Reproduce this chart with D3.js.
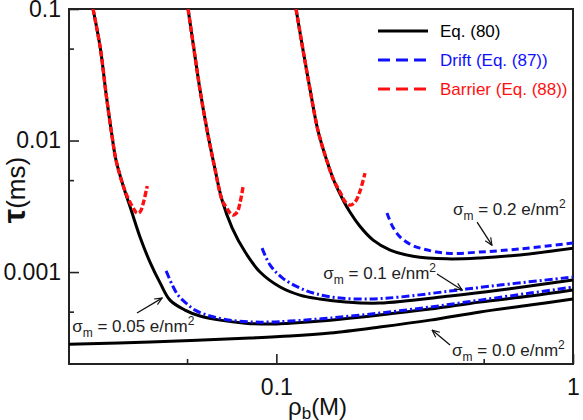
<!DOCTYPE html>
<html>
<head>
<meta charset="utf-8">
<script src="https://cdn.jsdelivr.net/npm/d3@7"></script>
<style>
  body { margin: 0; background: #fff; }
  svg text { font-family: "Liberation Sans", Arial, sans-serif; }
</style>
</head>
<body>
<div id="chart"></div>
<script>
// data: [rho_b (M), tau (ms)]
var eq80_s000 = [[0.02,0.000283],[0.0376,0.000294],[0.0815,0.000315],[0.111,0.000326],[0.152,0.000344],[0.223,0.000382],[0.330,0.000431],[0.486,0.000497],[0.717,0.000561],[1.0,0.000624]];
var eq80_s005 = [[0.0241,0.1],[0.0255,0.0505],[0.0267,0.0222],[0.0279,0.0110],[0.0288,0.00711],[0.0304,0.00459],[0.0324,0.00296],[0.0347,0.00185],[0.0375,0.00119],[0.0406,0.000824],[0.0438,0.000612],[0.0492,0.000514],[0.0553,0.000463],[0.0646,0.000431],[0.0785,0.000409],[0.0953,0.000402],[0.111,0.000409],[0.152,0.000431],[0.223,0.000471],[0.330,0.000523],[0.486,0.000592],[0.717,0.000657],[1.0,0.000730]];
var eq80_s010 = [[0.0504,0.1],[0.0528,0.0488],[0.0553,0.0242],[0.0584,0.0120],[0.0617,0.00652],[0.0656,0.00353],[0.0710,0.00216],[0.0785,0.00142],[0.0881,0.001],[0.103,0.000769],[0.120,0.000668],[0.140,0.000624],[0.171,0.000592],[0.223,0.000581],[0.385,0.000657],[0.568,0.000730],[1.0,0.000869]];
var eq80_s020 = [[0.1165,0.1],[0.123,0.0488],[0.130,0.0242],[0.138,0.0120],[0.147,0.00736],[0.156,0.00501],[0.1665,0.00366],[0.177,0.00286],[0.191,0.00224],[0.212,0.00175],[0.242,0.00147],[0.289,0.00132],[0.376,0.00126],[0.486,0.00128],[0.662,0.00135],[1.0,0.00152]];

var drift_s005 = [[0.0425,0.00102],[0.0446,0.000797],[0.0466,0.000668],[0.0496,0.000581],[0.0532,0.000514],[0.0598,0.000463],[0.0698,0.000431],[0.0834,0.000417],[0.0953,0.000417],[0.111,0.000424],[0.152,0.000447],[0.223,0.000488],[0.330,0.000542],[0.486,0.000612],[0.717,0.000692],[1.0,0.000769]];
var drift_s010 = [[0.0895,0.00152],[0.0953,0.00113],[0.105,0.000900],[0.120,0.000756],[0.137,0.000681],[0.164,0.000634],[0.207,0.000624],[0.261,0.000646],[0.385,0.000717],[0.568,0.000797],[1.0,0.000916]];
var drift_s020 = [[0.236,0.00281],[0.247,0.00220],[0.261,0.00185],[0.282,0.00163],[0.305,0.00152],[0.376,0.00139],[0.486,0.00142],[0.662,0.00150],[1.0,0.00166]];

var barrier_s005 = [[0.0241,0.1],[0.0255,0.0505],[0.0267,0.0222],[0.0279,0.0110],[0.0288,0.00711],[0.0304,0.00459],[0.0316,0.00366],[0.0329,0.00307],[0.0339,0.00281],[0.0347,0.00286],[0.0356,0.00335],[0.0367,0.00451]];
var barrier_s010 = [[0.0504,0.1],[0.0528,0.0488],[0.0553,0.0242],[0.0584,0.0120],[0.0617,0.00652],[0.0656,0.00353],[0.0677,0.00312],[0.0698,0.00281],[0.0715,0.00271],[0.0738,0.00286],[0.0755,0.00340],[0.0773,0.00451]];
var barrier_s020 = [[0.1165,0.1],[0.123,0.0488],[0.130,0.0242],[0.138,0.0120],[0.147,0.00736],[0.156,0.00501],[0.164,0.00406],[0.170,0.00347],[0.177,0.00323],[0.184,0.00340],[0.191,0.00406],[0.199,0.00566]];

var xMajor = [0.1, 1];
var xMinor = [0.05, 0.5];
var yMajor = [0.001, 0.01, 0.1];
var yMinor = [0.0005, 0.005, 0.05];

var legendLabels = ["Eq. (80)", "Drift (Eq. (87))", "Barrier (Eq. (88))"];

// annotations: label value, text anchor, arrow tail, arrow tip (data units)
var sigmaLabels = ["0.05", "0.1", "0.2", "0.0"];
var sigmaText = [[0.0205,0.000350],[0.144,0.000885],[0.394,0.00271],[0.391,0.000230]];
var sigmaTail = [[0.0339,0.000488],[0.348,0.000966],[0.475,0.00240],[0.385,0.000279]];
var sigmaTip = [[0.0412,0.000634],[0.423,0.000730],[0.533,0.00160],[0.335,0.000362]];

var svgWidth = 583;
var svgHeight = 420;
var margin = { top: 9, right: 10, bottom: 56, left: 69 };
var width = svgWidth - margin.left - margin.right;
var height = svgHeight - margin.top - margin.bottom;

var svg = d3.select("#chart").append("svg")
  .attr("width", svgWidth)
  .attr("height", svgHeight);

svg.append("defs").append("clipPath").attr("id", "plotclip")
  .append("rect").attr("width", width).attr("height", height);

svg.select("defs").append("marker")
  .attr("id", "arrow")
  .attr("viewBox", "-1 -5 11 10")
  .attr("refX", 9).attr("refY", 0)
  .attr("markerWidth", 9).attr("markerHeight", 9)
  .attr("markerUnits", "userSpaceOnUse")
  .attr("orient", "auto")
  .append("path")
  .attr("d", "M0,-4L9,0L0,4")
  .attr("fill", "none")
  .attr("stroke", "#111")
  .attr("stroke-width", 1.4);

var g = svg.append("g").attr("transform", `translate(${margin.left},${margin.top})`);

var x = d3.scaleLog().domain([0.02, 1]).range([0, width]);
var y = d3.scaleLog().domain([0.0002, 0.1]).range([height, 0]);

// axes (ticks point inward)
var fmt = d3.format("");
g.append("g").attr("class", "xaxis")
  .attr("transform", `translate(0,${height})`)
  .call(d3.axisBottom(x).tickValues(xMajor).tickSizeInner(-10).tickSizeOuter(0).tickPadding(15).tickFormat(fmt));
g.append("g").attr("class", "xaxis")
  .attr("transform", `translate(0,${height})`)
  .call(d3.axisBottom(x).tickValues(xMinor).tickSizeInner(-5).tickSizeOuter(0).tickFormat(""));
g.append("g").attr("class", "yaxis")
  .call(d3.axisLeft(y).tickValues(yMajor).tickSizeInner(-10).tickSizeOuter(0).tickPadding(8).tickFormat(fmt));
g.append("g").attr("class", "yaxis")
  .call(d3.axisLeft(y).tickValues(yMinor).tickSizeInner(-5).tickSizeOuter(0).tickFormat(""));

g.selectAll(".xaxis .domain, .yaxis .domain").remove();
g.selectAll(".xaxis line, .yaxis line").attr("stroke", "#222").attr("stroke-width", 1.6);
g.selectAll(".xaxis text, .yaxis text")
  .attr("fill", "#111")
  .style("font-size", "23px");

// frame
g.append("rect")
  .attr("width", width).attr("height", height)
  .attr("fill", "none").attr("stroke", "#222").attr("stroke-width", 2);

var line = d3.line()
  .x(d => x(d[0]))
  .y(d => y(d[1]))
  .curve(d3.curveCatmullRom.alpha(0.5));

var plot = g.append("g").attr("clip-path", "url(#plotclip)");

// Eq. (80) solid black
[eq80_s000, eq80_s005, eq80_s010, eq80_s020].forEach(function(s) {
  plot.append("path").datum(s).attr("d", line)
    .attr("fill", "none").attr("stroke", "#000").attr("stroke-width", 3);
});

// Drift, blue
[drift_s005, drift_s010].forEach(function(s) {
  plot.append("path").datum(s).attr("d", line)
    .attr("fill", "none").attr("stroke", "#1010ff").attr("stroke-width", 3)
    .attr("stroke-dasharray", "8,3,2,3");
});
plot.append("path").datum(drift_s020).attr("d", line)
  .attr("fill", "none").attr("stroke", "#1010ff").attr("stroke-width", 3)
  .attr("stroke-dasharray", "7,4");

// Barrier, red
[barrier_s005, barrier_s010, barrier_s020].forEach(function(s) {
  plot.append("path").datum(s).attr("d", line)
    .attr("fill", "none").attr("stroke", "#ff1010").attr("stroke-width", 3.4)
    .attr("stroke-dasharray", "6,2.5");
});

// sigma annotations
sigmaLabels.forEach(function(lab, i) {
  g.append("line")
    .attr("x1", x(sigmaTail[i][0])).attr("y1", y(sigmaTail[i][1]))
    .attr("x2", x(sigmaTip[i][0])).attr("y2", y(sigmaTip[i][1]))
    .attr("stroke", "#111").attr("stroke-width", 1.3)
    .attr("marker-end", "url(#arrow)");
  var t = g.append("text")
    .attr("x", x(sigmaText[i][0])).attr("y", y(sigmaText[i][1]))
    .attr("fill", "#222")
    .style("font-size", "17px");
  t.append("tspan").text("σ");
  t.append("tspan").attr("dy", 5).style("font-size", "12px").text("m");
  t.append("tspan").attr("dy", -5).text(" = " + lab + " e/nm");
  t.append("tspan").attr("dy", -7).style("font-size", "12px").text("2");
});

// legend
var legendColors = ["#000", "#1010ff", "#ff1010"];
var legendDash = [null, "12,6", "12,6"];
legendLabels.forEach(function(lab, i) {
  var ly = 22 + i * 29;
  var lg = g.append("g").attr("transform", `translate(309,${ly})`);
  lg.append("line").attr("x1", 0).attr("x2", 50).attr("y1", 0).attr("y2", 0)
    .attr("stroke", legendColors[i]).attr("stroke-width", 3)
    .attr("stroke-dasharray", legendDash[i]);
  lg.append("text").attr("x", 62).attr("y", 6)
    .attr("fill", legendColors[i])
    .style("font-size", "17px")
    .text(lab);
});

// axis titles
var yt = svg.append("text")
  .attr("transform", "translate(25,190) rotate(-90)")
  .attr("text-anchor", "middle")
  .attr("fill", "#111");
yt.append("tspan").style("font-size", "32px").style("font-weight", "bold").text("τ");
yt.append("tspan").style("font-size", "26px").text("(ms)");

var xt = svg.append("text")
  .attr("x", 288).attr("y", 415)
  .attr("fill", "#111")
  .style("font-size", "24px");
xt.append("tspan").text("ρ");
xt.append("tspan").attr("dy", 4).style("font-size", "17px").text("b");
xt.append("tspan").attr("dy", -4).text("(M)");
</script>
</body>
</html>
